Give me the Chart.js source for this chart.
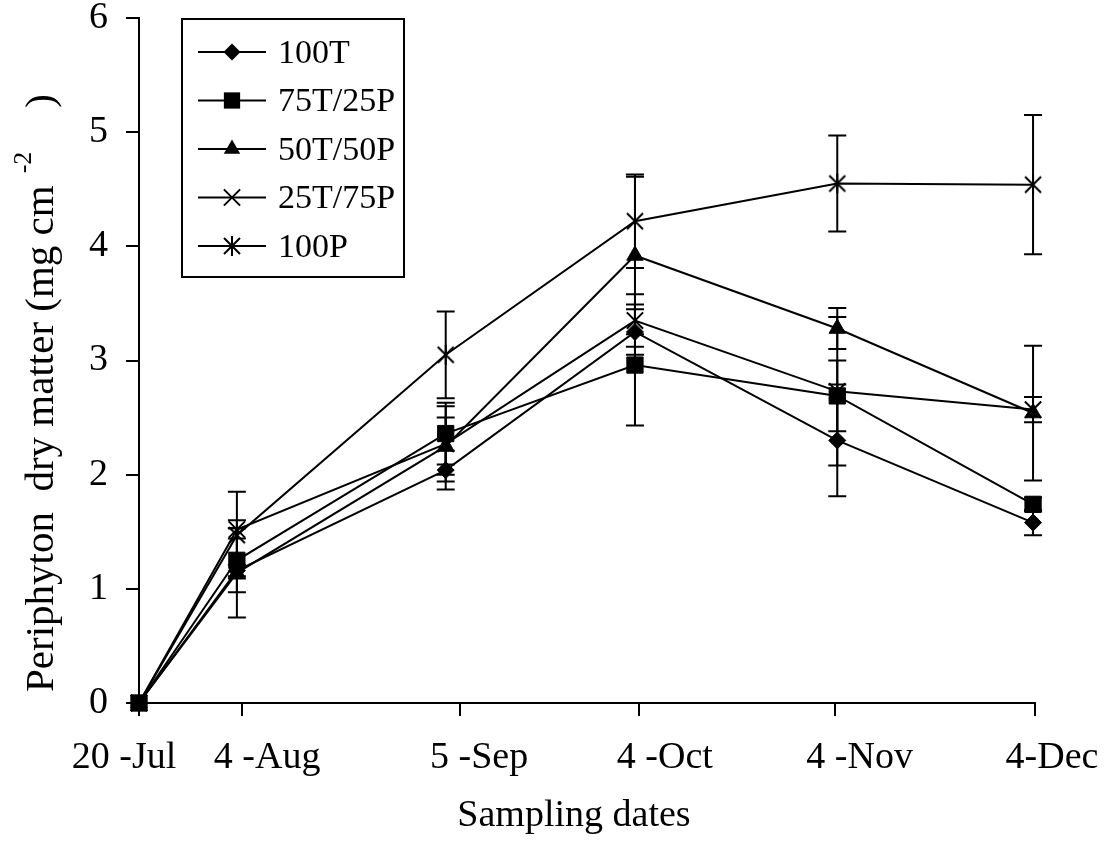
<!DOCTYPE html>
<html><head><meta charset="utf-8">
<script src="https://cdn.jsdelivr.net/npm/chart.js@4.4.0/dist/chart.umd.min.js"></script>
<style>html,body{margin:0;padding:0;background:#fff}</style>
</head><body>
<canvas id="c" width="1113" height="860" style="width:1113px;height:860px;display:block"></canvas>
<script>
// ---- data ----
const dateLabels = ['20 -Jul', '4 -Aug', '5 -Sep', '4 -Oct', '4 -Nov', '4-Dec'];
const sampleDays = [0, 15, 47, 76, 107, 137];          // days after 20 Jul
const tickDays   = [0, 15.8, 49.2, 76.6, 106.6, 137.3];  // axis tick positions
const yTicks     = [0, 1, 2, 3, 4, 5, 6];
const seriesNames = ['100T', '75T/25P', '50T/50P', '25T/75P', '100P'];

const val100T  = [0, 1.16, 2.04, 3.25, 2.30, 1.58];
const err100T  = [0, 0.05, 0.17, 0.20, 0.49, 0.11];
const val75T   = [0, 1.25, 2.36, 2.96, 2.69, 1.74];
const err75T   = [0, 0.28, 0.27, 0.53, 0.31, 0.06];
const val50T   = [0, 1.14, 2.25, 3.92, 3.28, 2.54];
const err50T   = [0, 0.39, 0.25, 0.69, 0.18, 0.59];
const val25T   = [0, 1.52, 2.27, 3.35, 2.73, 2.57];
const err25T   = [0, 0.08, 0.33, 0.23, 0.65, 0.11];
const val100P  = [0, 1.47, 3.05, 4.22, 4.55, 4.54];
const err100P  = [0, 0.38, 0.38, 0.41, 0.42, 0.61];

const FONT = "'Liberation Serif', 'Times New Roman', serif";

function makeAsterisk() {
  const c = document.createElement('canvas');
  c.width = 22; c.height = 22;
  const g = c.getContext('2d');
  g.strokeStyle = '#000'; g.lineWidth = 2;
  g.beginPath();
  g.moveTo(3, 3); g.lineTo(19, 19);
  g.moveTo(19, 3); g.lineTo(3, 19);
  g.moveTo(11, 1); g.lineTo(11, 21);
  g.stroke();
  return c;
}
const asterisk = makeAsterisk();

const styles = [
  { pointStyle: 'rectRot', radius: 8.5 },
  { pointStyle: 'rect', radius: 11.5 },
  { pointStyle: 'triangle', radius: 9.5 },
  { pointStyle: 'crossRot', radius: 11.5 },
  { pointStyle: asterisk, radius: 11 }
];
const values = [val100T, val75T, val50T, val25T, val100P];
const errors = [err100T, err75T, err50T, err25T, err100P];

const datasets = seriesNames.map((name, i) => ({
  label: name,
  data: sampleDays.map((d, j) => ({ x: d, y: values[i][j] })),
  errs: errors[i],
  borderColor: '#000',
  borderWidth: 2,
  backgroundColor: '#000',
  pointStyle: styles[i].pointStyle,
  pointRadius: styles[i].radius,
  pointHoverRadius: styles[i].radius,
  pointBackgroundColor: '#000',
  pointBorderColor: '#000',
  pointBorderWidth: (i === 3) ? 2 : 1,
  tension: 0,
  fill: false,
  clip: false
}));

function drawMarker(ctx, style, r, x, y) {
  ctx.save();
  ctx.fillStyle = '#000'; ctx.strokeStyle = '#000'; ctx.lineWidth = 2;
  if (style instanceof HTMLCanvasElement) {
    ctx.drawImage(style, x - style.width / 2, y - style.height / 2);
  } else if (style === 'rectRot') {
    ctx.beginPath(); ctx.moveTo(x, y - r); ctx.lineTo(x + r, y); ctx.lineTo(x, y + r); ctx.lineTo(x - r, y); ctx.closePath(); ctx.fill();
  } else if (style === 'rect') {
    const s = Math.SQRT1_2 * r; ctx.fillRect(x - s, y - s, 2 * s, 2 * s);
  } else if (style === 'triangle') {
    ctx.beginPath();
    let a = 0;
    ctx.moveTo(x + Math.sin(a) * r, y - Math.cos(a) * r);
    a += 2 * Math.PI / 3; ctx.lineTo(x + Math.sin(a) * r, y - Math.cos(a) * r);
    a += 2 * Math.PI / 3; ctx.lineTo(x + Math.sin(a) * r, y - Math.cos(a) * r);
    ctx.closePath(); ctx.fill();
  } else if (style === 'crossRot') {
    const s = Math.SQRT1_2 * r;
    ctx.beginPath(); ctx.moveTo(x - s, y - s); ctx.lineTo(x + s, y + s); ctx.moveTo(x + s, y - s); ctx.lineTo(x - s, y + s); ctx.stroke();
  }
  ctx.restore();
}

const errorBars = {
  id: 'errorBars',
  beforeDatasetsDraw(chart) {
    const ctx = chart.ctx, xs = chart.scales.x, ys = chart.scales.y;
    ctx.save();
    ctx.strokeStyle = '#000'; ctx.lineWidth = 2;
    chart.data.datasets.forEach(ds => {
      ds.data.forEach((p, j) => {
        const e = ds.errs[j];
        if (!e) return;
        const x = xs.getPixelForValue(p.x);
        const y1 = ys.getPixelForValue(p.y + e), y2 = ys.getPixelForValue(p.y - e);
        ctx.beginPath();
        ctx.moveTo(x, y1); ctx.lineTo(x, y2);
        ctx.moveTo(x - 9, y1); ctx.lineTo(x + 9, y1);
        ctx.moveTo(x - 9, y2); ctx.lineTo(x + 9, y2);
        ctx.stroke();
      });
    });
    ctx.restore();
  }
};

const decorations = {
  id: 'decorations',
  afterDraw(chart) {
    const ctx = chart.ctx, xs = chart.scales.x, area = chart.chartArea;
    ctx.save();
    ctx.fillStyle = '#000';
    // x tick labels
    const nudge = [-15, 25, 19, 26, 25, 17];
    ctx.font = '38px ' + FONT;
    ctx.textAlign = 'center'; ctx.textBaseline = 'middle';
    dateLabels.forEach((t, i) => {
      ctx.fillText(t, xs.getPixelForValue(tickDays[i]) + nudge[i], area.bottom + 55);
    });
    // x title
    ctx.fillText('Sampling dates', 574, 816);
    // y title with superscript (rotated)
    ctx.save();
    ctx.translate(42, 0);
    ctx.rotate(-Math.PI / 2);
    ctx.textAlign = 'left'; ctx.textBaseline = 'middle';
    const main = 'Periphyton  dry matter (mg cm';
    ctx.font = '41px ' + FONT;
    const w1 = ctx.measureText(main).width;
    const start = -692;
    ctx.fillText(main, start, 0);
    ctx.font = '26px ' + FONT;
    ctx.fillText('-2', start + w1 + 12, -18);
    ctx.font = '41px ' + FONT;
    ctx.textAlign = 'right';
    ctx.fillText(')', -94, 0);
    ctx.restore();
    // legend
    ctx.fillStyle = '#fff';
    ctx.fillRect(182, 19, 222, 258);
    ctx.strokeStyle = '#000'; ctx.lineWidth = 2;
    ctx.strokeRect(182, 19, 222, 258);
    ctx.fillStyle = '#000';
    ctx.font = '34px ' + FONT; ctx.textAlign = 'left'; ctx.textBaseline = 'middle';
    seriesNames.forEach((n, i) => {
      const y = 52 + i * 48.5;
      ctx.beginPath(); ctx.moveTo(198, y); ctx.lineTo(266, y); ctx.stroke();
      drawMarker(ctx, styles[i].pointStyle, styles[i].radius, 232, y);
      ctx.fillText(n, 278, y + 2);
    });
    ctx.restore();
  }
};

new Chart(document.getElementById('c'), {
  type: 'line',
  data: { datasets },
  plugins: [errorBars, decorations],
  options: {
    responsive: false,
    animation: false,
    events: [],
    layout: { padding: { top: 18, right: 78, bottom: 0, left: 0 } },
    plugins: { legend: { display: false }, tooltip: { enabled: false }, title: { display: false } },
    scales: {
      x: {
        type: 'linear', min: 0, max: 137.3,
        afterBuildTicks: s => { s.ticks = tickDays.map(v => ({ value: v })); },
        afterFit: s => { s.height = 157; s.paddingLeft = 0; s.paddingRight = 0; },
        ticks: { display: false },
        grid: { drawOnChartArea: false, drawTicks: true, tickLength: 13, color: '#000', lineWidth: 2 },
        border: { display: true, color: '#000', width: 2 }
      },
      y: {
        min: 0, max: 6,
        afterBuildTicks: s => { s.ticks = yTicks.map(v => ({ value: v })); },
        afterFit: s => { s.width = 139; s.paddingTop = 0; s.paddingBottom = 0; },
        ticks: { color: '#000', padding: 18, font: { family: FONT, size: 38, lineHeight: 1 } },
        grid: { drawOnChartArea: false, drawTicks: true, tickLength: 13, color: '#000', lineWidth: 2 },
        border: { display: true, color: '#000', width: 2 }
      }
    }
  }
});
</script>
</body></html>
